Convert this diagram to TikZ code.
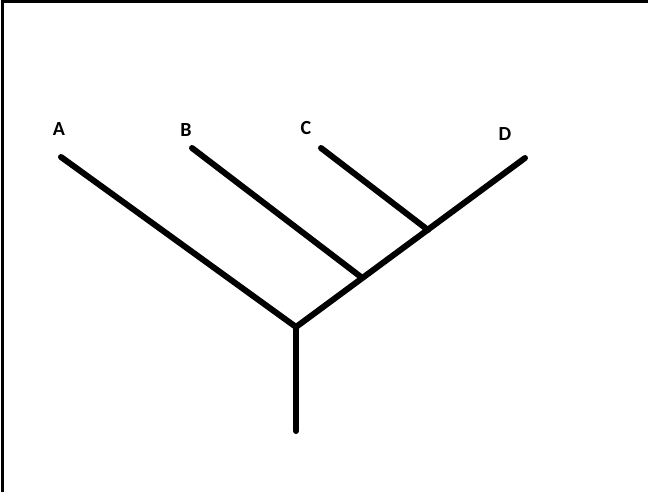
\documentclass[tikz,border=0pt]{standalone}
\usepackage{fontspec}
\setmainfont{Carlito}
\begin{document}
\begin{tikzpicture}[x=1pt,y=-1pt,
  branch/.style={line width=6pt,line cap=round,black},
  taxon/.style={font=\fontsize{20}{22}\selectfont\bfseries,inner sep=0pt}]
\useasboundingbox (0,0) rectangle (648,492);
% frame edges along top and left
\draw[line width=3pt] (648,2) -- (2,2) -- (2,492);
% tip labels
\node[taxon] (lA) at (59,129) {A};
\node[taxon] (lB) at (186,130) {B};
\node[taxon] (lC) at (306,128) {C};
\node[taxon] (lD) at (505,134) {D};
% tree points
\coordinate (tA) at (61,157);
\coordinate (tB) at (192,148);
\coordinate (tC) at (321,148);
\coordinate (tD) at (525,158);
\coordinate (root) at (296,327);
\coordinate (jB) at (361,277);
\coordinate (jC) at (428,230);
\coordinate (base) at (296,431);
% branches
\draw[branch] (tA) -- (root);
\draw[branch] (tD) -- (root);
\draw[branch] (tB) -- (jB);
\draw[branch] (tC) -- (jC);
\draw[branch] (root) -- (base);
\end{tikzpicture}
\end{document}
